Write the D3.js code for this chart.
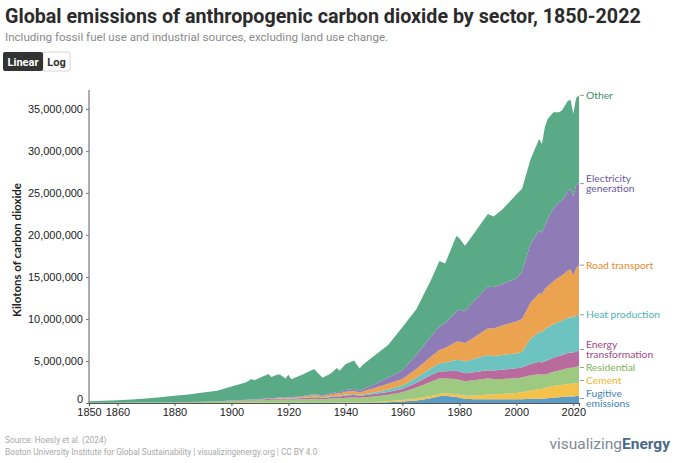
<!DOCTYPE html>
<html>
<head>
<meta charset="utf-8">
<script src="https://cdn.jsdelivr.net/npm/d3@7"></script>
<style>
  body { margin: 0; background: #fff; }
  svg { display: block; font-family: Lato, "Open Sans", sans-serif; }
</style>
</head>
<body>
<div id="chart"></div>
<script>
// values in millions of kilotons of CO2
const years = [1850, 1855, 1860, 1865, 1870, 1875, 1880, 1885, 1890, 1895, 1900, 1905, 1907, 1908,
  1910, 1913, 1914, 1916, 1917, 1919, 1920, 1921, 1925, 1929, 1932, 1935, 1937, 1938, 1940, 1943,
  1945, 1946, 1950, 1955, 1960, 1965, 1970, 1973, 1975, 1979, 1980, 1982, 1985, 1990, 1992, 1995,
  2000, 2002, 2005, 2008, 2009, 2010, 2011, 2013, 2015, 2016, 2018, 2019, 2020, 2021, 2022];

const fugitive = [0, 0, 0, 0, 0, 0, 0, 0, .005, .006, .008, .01, .011, .011,
  .012, .014, .013, .014, .015, .014, .016, .015, .018, .022, .02, .024, .028, .027, .032, .036,
  .035, .038, .06, .1, .17, .3, .56, .8, .85, .72, .62, .5, .45, .45, .44, .44,
  .45, .46, .5, .52, .52, .55, .57, .62, .68, .7, .76, .78, .78, .82, .85];

const cement = [0, 0, 0, 0, 0, 0, 0, .002, .003, .004, .005, .007, .008, .008,
  .01, .012, .011, .012, .012, .011, .013, .012, .016, .02, .015, .02, .024, .022, .026, .03,
  .025, .028, .05, .1, .2, .24, .27, .3, .3, .33, .35, .35, .4, .55, .57, .62,
  .75, .82, 1.0, 1.15, 1.15, 1.25, 1.3, 1.4, 1.45, 1.45, 1.5, 1.5, 1.52, 1.55, 1.55];

const residential = [.02, .025, .03, .035, .045, .055, .07, .085, .11, .14, .19, .24, .27, .27,
  .3, .34, .33, .35, .36, .35, .38, .37, .4, .45, .42, .48, .52, .51, .58, .6,
  .56, .58, .65, .77, .91, 1.3, 1.71, 1.8, 1.75, 1.8, 1.78, 1.75, 1.85, 1.9, 1.85, 1.8,
  1.75, 1.75, 1.8, 1.75, 1.7, 1.6, 1.62, 1.7, 1.75, 1.8, 1.88, 1.9, 1.9, 1.95, 1.95];

const energyTransformation = [.005, .007, .01, .012, .015, .018, .02, .025, .03, .04, .05, .07, .08, .08,
  .09, .11, .1, .11, .12, .11, .13, .12, .15, .19, .16, .2, .22, .21, .26, .28,
  .24, .26, .3, .35, .4, .58, .79, .85, .88, .98, .99, .95, .97, 1.0, 1.0, 1.1,
  1.18, 1.22, 1.35, 1.5, 1.45, 1.57, 1.6, 1.65, 1.7, 1.72, 1.8, 1.82, 1.78, 1.85, 1.85];

const heatProduction = [0, 0, 0, 0, 0, 0, 0, 0, .005, .008, .01, .015, .018, .018,
  .02, .025, .025, .03, .03, .03, .035, .035, .045, .06, .055, .07, .08, .08, .1, .11,
  .1, .11, .2, .3, .39, .6, .8, .95, 1.05, 1.3, 1.37, 1.4, 1.55, 1.8, 1.7, 1.75,
  1.77, 1.85, 3.0, 3.5, 3.6, 3.8, 3.9, 4.0, 4.1, 4.1, 4.2, 4.2, 4.2, 4.3, 4.3];

const roadTransport = [0, 0, 0, 0, 0, 0, 0, 0, 0, 0, .002, .005, .008, .01,
  .015, .025, .03, .04, .045, .05, .07, .07, .12, .2, .17, .23, .28, .27, .34, .36,
  .3, .34, .5, .68, .8, 1.05, 1.37, 1.6, 1.7, 2.15, 2.2, 2.2, 2.55, 3.2, 3.3, 3.5,
  3.8, 3.9, 4.3, 4.6, 4.55, 4.8, 4.9, 5.1, 5.3, 5.4, 5.6, 5.7, 5.0, 5.6, 5.9];

const electricity = [0, 0, 0, 0, 0, 0, 0, 0, .005, .01, .02, .03, .035, .035,
  .04, .05, .05, .055, .06, .055, .065, .06, .08, .11, .09, .13, .16, .16, .22, .25,
  .22, .25, .42, .72, 1.0, 1.7, 2.4, 2.8, 3.0, 3.6, 3.8, 3.8, 4.3, 4.95, 4.9, 4.95,
  5.1, 5.6, 7.0, 7.5, 7.3, 7.5, 8.0, 8.7, 8.9, 8.9, 9.4, 9.6, 9.4, 9.9, 9.7];

const other = [.175, .238, .3, .383, .49, .607, .77, .908, 1.092, 1.242, 1.665, 2.073, 2.42, 2.268,
  2.513, 2.874, 2.541, 2.739, 2.758, 2.28, 2.641, 2.158, 2.571, 3.0, 2.06, 2.4, 2.84, 2.57, 3.04, 3.38,
  2.62, 2.92, 3.42, 3.88, 5.13, 5.43, 6.7, 7.8, 7.07, 9.02, 8.49, 7.75, 8.03, 8.65, 8.44, 8.84,
  10.0, 9.9, 10.05, 10.88, 10.53, 11.73, 11.91, 11.43, 10.72, 10.73, 10.76, 10.6, 9.82, 10.33, 10.5];

const sectors = ["fugitive", "cement", "residential", "energyTransformation", "heatProduction",
  "roadTransport", "electricity", "other"];
const sectorLabels = [["Fugitive", "emissions"], ["Cement"], ["Residential"], ["Energy", "transformation"],
  ["Heat production"], ["Road transport"], ["Electricity", "generation"], ["Other"]];
const fills = ["#5b9cc6", "#f4c24a", "#9dca80", "#b86b9c", "#6dc3c0", "#eca34f", "#8f7bb6", "#5aaa88"];
const textColors = ["#3f7fb3", "#f0b42c", "#7db35b", "#a2497f", "#4eb1b0", "#e5892c", "#6a58a0", "#3c8e69"];

const xTicks = [1850, 1860, 1880, 1900, 1920, 1940, 1960, 1980, 2000, 2020];
const yTicks = [0, 5, 10, 15, 20, 25, 30, 35];

const series = { fugitive, cement, residential, energyTransformation, heatProduction, roadTransport, electricity, other };
const table = years.map((year, i) => {
  const row = { year };
  sectors.forEach(k => row[k] = series[k][i]);
  return row;
});

const W = 680, H = 463;
const svg = d3.select("#chart").append("svg")
  .attr("width", W)
  .attr("height", H);

const x = d3.scaleLinear().domain([1850, 2022]).range([89, 579]);
const y = d3.scaleLinear().domain([0, 37]).range([403, 92]);

// title block
svg.append("text")
  .attr("x", 5).attr("y", 23)
  .style("font-family", "Roboto, sans-serif")
  .style("font-size", "19.7px").style("font-weight", "700")
  .attr("fill", "#2b2b2b")
  .text("Global emissions of anthropogenic carbon dioxide by sector, 1850-2022");

svg.append("text")
  .attr("x", 5).attr("y", 41)
  .style("font-family", "Roboto, sans-serif")
  .style("font-size", "11.6px")
  .attr("fill", "#8a8a8a")
  .text("Including fossil fuel use and industrial sources, excluding land use change.");

// Linear / Log toggle
const btn = svg.append("g").style("font-family", "Roboto, sans-serif").style("font-size", "11px").style("font-weight", "700");
btn.append("rect").attr("x", 43).attr("y", 52).attr("width", 27).attr("height", 19)
  .attr("rx", 2).attr("fill", "#fff").attr("stroke", "#d6d6d6");
btn.append("rect").attr("x", 3).attr("y", 52).attr("width", 40).attr("height", 19)
  .attr("rx", 2).attr("fill", "#333");
btn.append("text").attr("x", 23).attr("y", 65.5).attr("text-anchor", "middle").attr("fill", "#fff").text("Linear");
btn.append("text").attr("x", 56.5).attr("y", 65.5).attr("text-anchor", "middle").attr("fill", "#333").text("Log");

// stacked areas
const stack = d3.stack().keys(sectors);
const layers = stack(table);

const area = d3.area()
  .x(d => x(d.data.year))
  .y0(d => y(d[0]))
  .y1(d => y(d[1]));

svg.append("g").selectAll("path")
  .data(layers)
  .join("path")
  .attr("fill", (d, i) => fills[i])
  .attr("d", area);

// axes
const fmt = d3.format(",");
const yAxis = svg.append("g")
  .attr("transform", "translate(89,0)")
  .call(d3.axisLeft(y).tickValues(yTicks).tickSize(3).tickPadding(3).tickFormat(d => fmt(d * 1e6)));
yAxis.select(".domain").attr("stroke", "#777").attr("stroke-width", 1.2).attr("d", "M0,90V403");
yAxis.selectAll(".tick line").attr("stroke", "#777");
yAxis.selectAll("text").style("font-size", "11px").attr("fill", "#222");
// the zero label sits just above the year labels, as in the original
yAxis.selectAll(".tick text").filter(d => d === 0).attr("dy", "-0.05em");

const xAxis = svg.append("g")
  .attr("transform", "translate(0,403)")
  .call(d3.axisBottom(x).tickValues(xTicks).tickSize(3).tickPadding(2).tickFormat(d3.format("d")));
xAxis.select(".domain").attr("stroke", "#555").attr("stroke-width", 1.2);
xAxis.selectAll(".tick line").attr("stroke", "#555");
xAxis.selectAll("text").style("font-size", "11px").attr("fill", "#222");

svg.append("text")
  .attr("transform", "translate(21,250) rotate(-90)")
  .attr("text-anchor", "middle")
  .style("font-size", "11.5px").style("font-weight", "700")
  .attr("fill", "#222")
  .text("Kilotons of carbon dioxide");

// right-hand labels at the top of each layer in 2022, nudged apart
const last = layers.map((l, i) => ({ i, target: y(l[l.length - 1][1]), lines: sectorLabels[i] }));
const lineH = 10;
last.forEach(d => d.pos = d.target);
for (let iter = 0; iter < 60; iter++) {
  for (let k = 0; k < last.length - 1; k++) {
    const lo = last[k], hi = last[k + 1];
    const need = (lo.lines.length + hi.lines.length) * lineH / 2 + 3;
    const gap = lo.pos - hi.pos;
    if (gap < need) {
      const push = (need - gap) / 2;
      lo.pos += push;
      hi.pos -= push;
    }
  }
}

const lab = svg.append("g");
lab.selectAll("line")
  .data(last)
  .join("line")
  .attr("x1", 580).attr("x2", 584)
  .attr("y1", d => d.pos).attr("y2", d => d.pos)
  .attr("stroke", "#999");

lab.selectAll("text")
  .data(last)
  .join("text")
  .attr("x", 586)
  .attr("y", d => d.pos - (d.lines.length - 1) * lineH / 2)
  .attr("dy", "0.35em")
  .attr("fill", d => textColors[d.i])
  .style("font-size", "10.3px")
  .selectAll("tspan")
  .data(d => d.lines)
  .join("tspan")
  .attr("x", 586)
  .attr("dy", (d, j) => j === 0 ? null : lineH)
  .text(d => d);

// footer
const foot = svg.append("g").style("font-family", "Roboto, sans-serif").style("font-size", "8.3px").attr("fill", "#a8a8a8");
foot.append("text").attr("x", 5).attr("y", 443).text("Source: Hoesly et al. (2024)");
foot.append("text").attr("x", 5).attr("y", 455).text("Boston University Institute for Global Sustainability | visualizingenergy.org | CC BY 4.0");

const logo = svg.append("text")
  .attr("x", 670).attr("y", 449)
  .attr("text-anchor", "end")
  .style("font-family", "Roboto, sans-serif")
  .style("font-size", "15.5px");
logo.append("tspan").attr("fill", "#7d8a96").text("visualizing");
logo.append("tspan").attr("fill", "#4b6a88").style("font-weight", "700").text("Energy");
</script>
</body>
</html>
